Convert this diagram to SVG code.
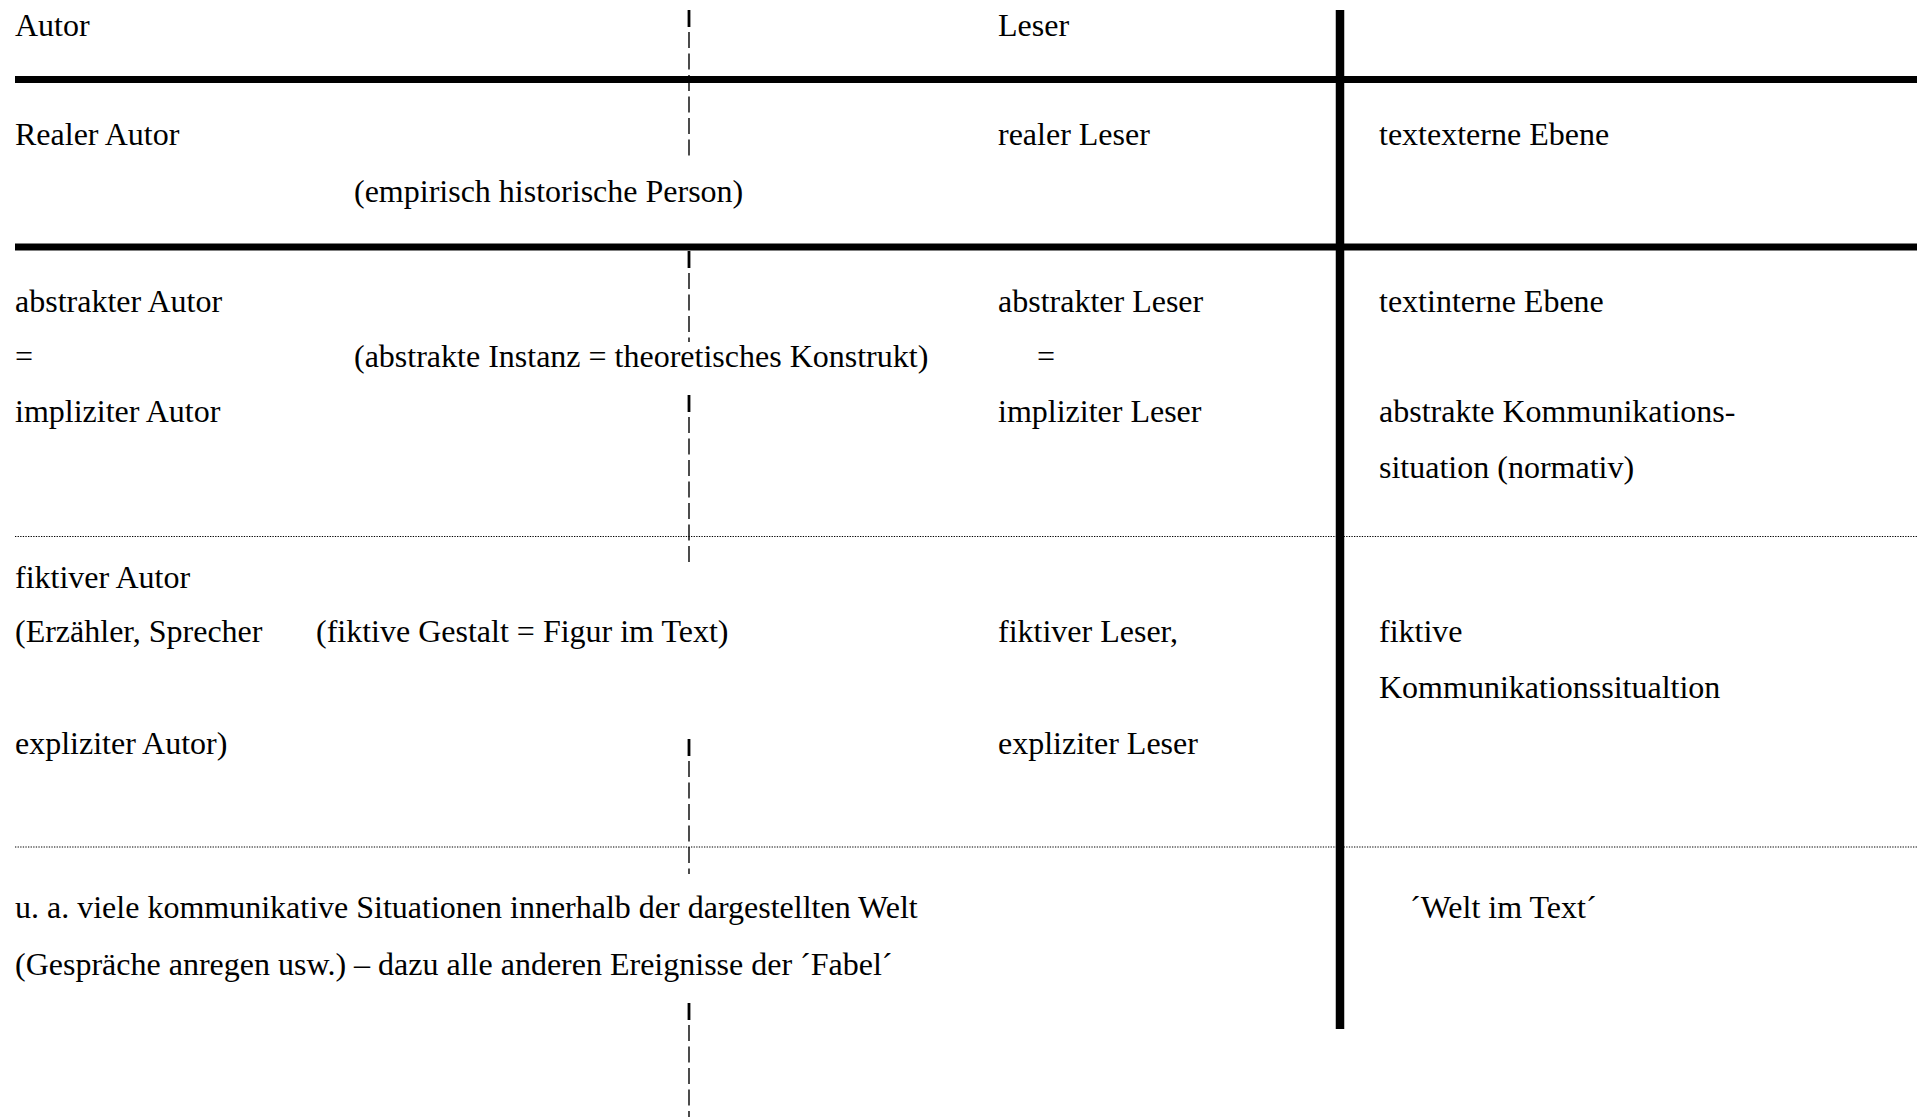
<svg xmlns="http://www.w3.org/2000/svg" width="1925" height="1117" viewBox="0 0 1925 1117">
<style>
text{font-family:"Liberation Serif","Times New Roman",serif;font-size:32px;fill:#000}
.thick{stroke:#000;stroke-width:7;fill:none}
.vthick{stroke:#000;stroke-width:8.5;fill:none}
.dot{stroke:#000;stroke-width:1.2;stroke-dasharray:1.3 1.3;fill:none}
.dash{stroke:#000;stroke-width:1.4;stroke-dasharray:16 5.5;fill:none}
.dhead{stroke:#000;stroke-width:2.8;fill:none}
</style>
<rect width="1925" height="1117" fill="#fff"/>
<g id="connectors">
  <line class="thick" x1="15" y1="79.5" x2="1917" y2="79.5"/>
  <line class="thick" x1="15" y1="247" x2="1917" y2="247"/>
  <line class="dot" x1="15" y1="536.5" x2="1917" y2="536.5"/>
  <line class="dot" x1="15" y1="847" x2="1917" y2="847"/>
  <line class="vthick" x1="1340" y1="10" x2="1340" y2="1029"/>
  <g id="dashed-divider">
    <line class="dhead" x1="689" y1="10" x2="689" y2="27"/>
    <line class="dash" x1="689" y1="32" x2="689" y2="157"/>
    <line class="dhead" x1="689" y1="251" x2="689" y2="268"/>
    <line class="dash" x1="689" y1="273" x2="689" y2="342"/>
    <line class="dhead" x1="689" y1="395" x2="689" y2="412"/>
    <line class="dash" x1="689" y1="417" x2="689" y2="565"/>
    <line class="dhead" x1="689" y1="739" x2="689" y2="756"/>
    <line class="dash" x1="689" y1="761" x2="689" y2="874"/>
    <line class="dhead" x1="689" y1="1003" x2="689" y2="1020"/>
    <line class="dash" x1="689" y1="1025" x2="689" y2="1117"/>
  </g>
</g>
<g id="header">
  <text x="15" y="35.5">Autor</text>
  <text x="998" y="35.5">Leser</text>
</g>
<g id="row-real">
  <text x="15" y="144.5">Realer Autor</text>
  <text x="354" y="201.5">(empirisch historische Person)</text>
  <text x="998" y="144.5">realer Leser</text>
  <text x="1379" y="144.5">textexterne Ebene</text>
</g>
<g id="row-abstract">
  <text x="15" y="311.5">abstrakter Autor</text>
  <text x="15" y="366.5">=</text>
  <text x="15" y="422">impliziter Autor</text>
  <text x="354" y="366.5">(abstrakte Instanz = theoretisches Konstrukt)</text>
  <text x="998" y="311.5">abstrakter Leser</text>
  <text x="1037" y="366.5">=</text>
  <text x="998" y="422">impliziter Leser</text>
  <text x="1379" y="311.5">textinterne Ebene</text>
  <text x="1379" y="422">abstrakte Kommunikations-</text>
  <text x="1379" y="477.5">situation (normativ)</text>
</g>
<g id="row-fictive">
  <text x="15" y="587.5">fiktiver Autor</text>
  <text x="15" y="641.5">(Erzähler, Sprecher</text>
  <text x="316" y="641.5">(fiktive Gestalt = Figur im Text)</text>
  <text x="15" y="753.5">expliziter Autor)</text>
  <text x="998" y="641.5">fiktiver Leser,</text>
  <text x="998" y="753.5">expliziter Leser</text>
  <text x="1379" y="641.5">fiktive</text>
  <text x="1379" y="697.5">Kommunikationssitualtion</text>
</g>
<g id="row-world">
  <text x="15" y="918">u. a. viele kommunikative Situationen innerhalb der dargestellten Welt</text>
  <text x="15" y="974.5">(Gespräche anregen usw.) – dazu alle anderen Ereignisse der ´Fabel´</text>
  <text x="1410" y="918">´Welt im Text´</text>
</g>
</svg>
